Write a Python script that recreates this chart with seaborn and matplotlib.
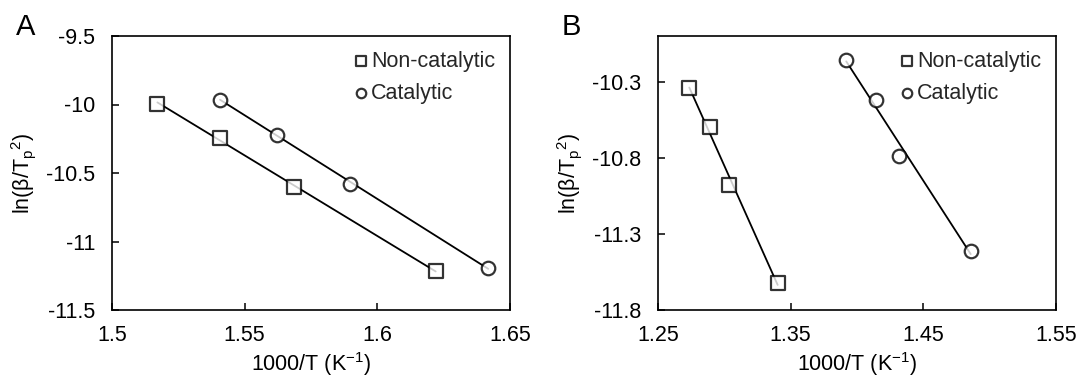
import numpy as np
import pandas as pd
import matplotlib
matplotlib.use("Agg")
import matplotlib.pyplot as plt
import seaborn as sns

# ---- Data ----
series_names = ["Non-catalytic", "Catalytic"]

a_noncat_x = [1.5171, 1.5407, 1.5687, 1.6220]
a_noncat_y = [-9.993, -10.244, -10.603, -11.217]
a_cat_x = [1.5407, 1.5623, 1.5897, 1.6418]
a_cat_y = [-9.964, -10.220, -10.579, -11.194]

b_noncat_x = [1.2736, 1.2894, 1.3037, 1.3402]
b_noncat_y = [-10.342, -10.600, -10.982, -11.620]
b_cat_x = [1.3919, 1.4145, 1.4320, 1.4857]
b_cat_y = [-10.160, -10.418, -10.791, -11.410]

a_xticks = [1.5, 1.55, 1.6, 1.65]
a_yticks = [-11.5, -11.0, -10.5, -10.0, -9.5]
b_xticks = [1.25, 1.35, 1.45, 1.55]
b_yticks = [-11.8, -11.3, -10.8, -10.3]
b_ytop = -10.0

panel_letters = ["A", "B"]
xlabel = "1000/T (K$^{\\mathregular{-1}}$)"
ylabel = "ln(\u03b2/T$_{\\mathregular{p}}$$^{\\mathregular{2}}$)"

# ---- Style ----
sns.set_theme(style="white")
plt.rcParams["font.family"] = ["Liberation Sans", "DejaVu Sans"]
plt.rcParams["axes.unicode_minus"] = False
plt.rcParams["mathtext.default"] = "regular"

FS = 15.5
fig = plt.figure(figsize=(10.79, 3.79), dpi=100)
ax_a = fig.add_axes([112 / 1079, 1 - 310 / 379, 398 / 1079, 274 / 379])
ax_b = fig.add_axes([658 / 1079, 1 - 310 / 379, 398 / 1079, 274 / 379])

markers = {"Non-catalytic": "s", "Catalytic": "o"}


def draw(ax, data, xticks, yticks, ylim):
    for name, (xs, ys) in zip(series_names, data):
        df = pd.DataFrame({"x": xs, "y": ys})
        sns.regplot(data=df, x="x", y="y", ax=ax, ci=None, color="black",
                    marker=markers[name], truncate=True, label=name,
                    scatter_kws={"facecolors": "white", "edgecolors": "black",
                                 "s": 95, "linewidths": 1.6, "zorder": 3},
                    line_kws={"color": "black", "lw": 1.3, "zorder": 2})
    ax.set_xlim(xticks[0], xticks[-1])
    ax.set_ylim(*ylim)
    ax.set_xticks(xticks)
    ax.set_xticklabels(["%g" % v for v in xticks])
    ax.set_yticks(yticks)
    ax.set_yticklabels(["%g" % v for v in yticks])
    ax.tick_params(axis="both", direction="in", length=5, width=1.1,
                   labelsize=FS, colors="black", left=True, bottom=True)
    ax.tick_params(axis="y", pad=12)
    ax.tick_params(axis="x", pad=11)
    for sp in ax.spines.values():
        sp.set_color("black")
        sp.set_linewidth(1.2)
    ax.set_xlabel(xlabel, fontsize=FS, color="black", labelpad=3)
    ax.set_ylabel(ylabel, fontsize=FS, color="black", labelpad=6)
    ax.legend(loc="upper right", frameon=False, fontsize=FS,
              handletextpad=0.0, handlelength=0.9, labelspacing=0.5,
              borderaxespad=0.3, borderpad=0.4, markerscale=0.7)


draw(ax_a, [(a_noncat_x, a_noncat_y), (a_cat_x, a_cat_y)], a_xticks, a_yticks,
     (a_yticks[0], a_yticks[-1]))
draw(ax_b, [(b_noncat_x, b_noncat_y), (b_cat_x, b_cat_y)], b_xticks, b_yticks,
     (b_yticks[0], b_ytop))

fig.text(16 / 1079, 1 - 35 / 379, panel_letters[0], fontsize=21, va="baseline",
         ha="left", color="black")
fig.text(562 / 1079, 1 - 35 / 379, panel_letters[1], fontsize=21, va="baseline",
         ha="left", color="black")

fig.savefig("out.png", dpi=100)
